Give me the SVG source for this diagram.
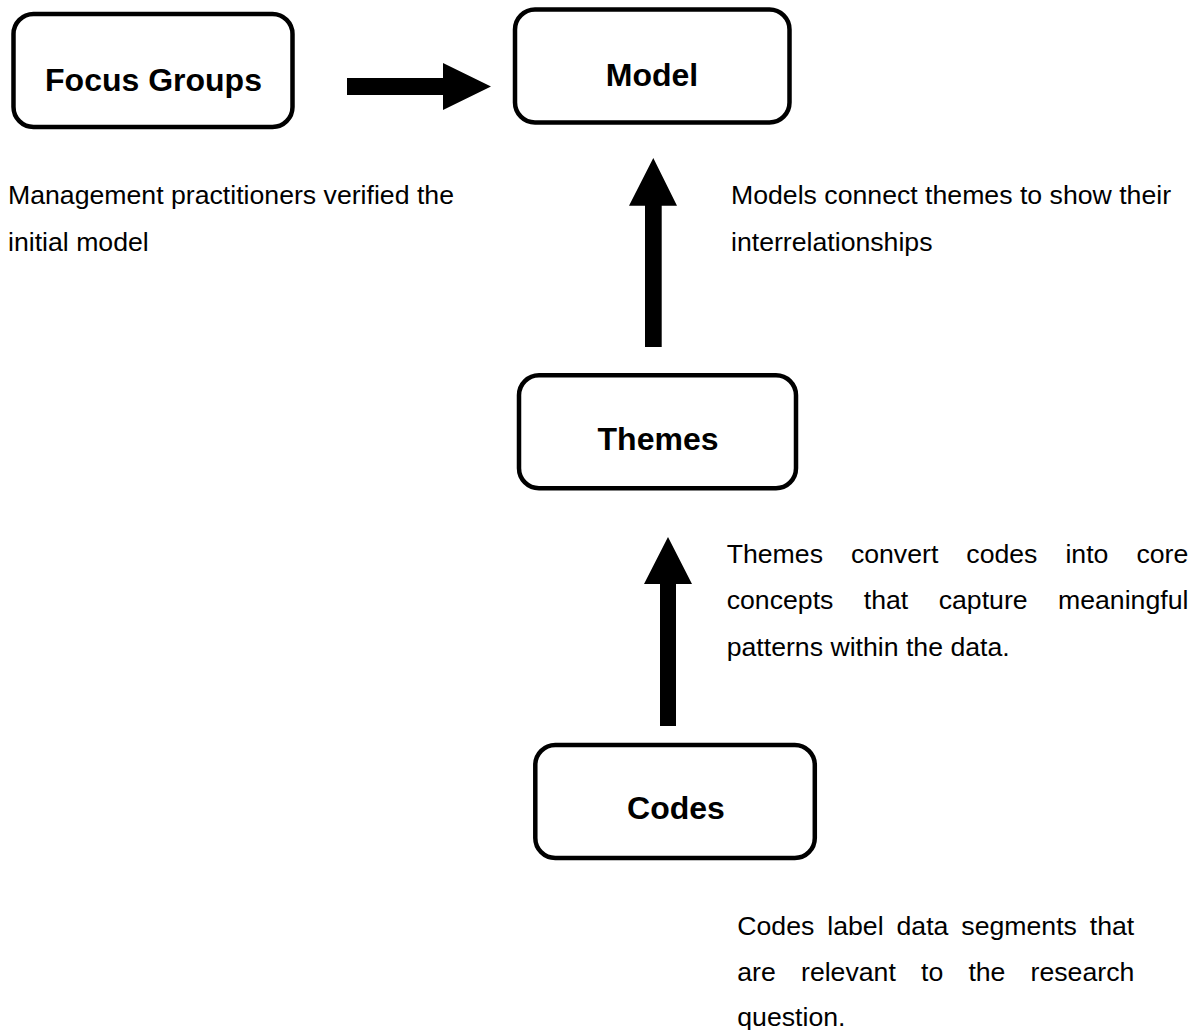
<svg xmlns="http://www.w3.org/2000/svg" width="1202" height="1030" viewBox="0 0 1202 1030">
<style>
.box{fill:#ffffff;stroke:#000000;stroke-width:4.5}
.lbl{font-family:"Liberation Sans",Arial,sans-serif;font-weight:bold;font-size:32px;fill:#000;text-anchor:middle}
.txt{font-family:"Liberation Sans",Arial,sans-serif;font-size:26.67px;fill:#000}
.arr{fill:#000;stroke:none}
</style>
<rect width="1202" height="1030" fill="#ffffff"/>
<g id="connectors">
<path class="arr" d="M347,78 H443 V63 L491,86.5 L443,110 V95 H347 Z"/>
<path class="arr" d="M645,347 V205.7 H629 L653.3,158 L677,205.7 H661.7 V347 Z"/>
<path class="arr" d="M660,726 V584 H644 L668,537 L692,584 H676 V726 Z"/>
</g>
<g id="focus-groups">
<rect class="box" x="13.5" y="14" width="279" height="113" rx="20"/>
<text class="lbl" x="153.5" y="90.5">Focus Groups</text>
</g>
<g id="model">
<rect class="box" x="515" y="9.5" width="274.5" height="113" rx="20"/>
<text class="lbl" x="652" y="86">Model</text>
</g>
<g id="themes">
<rect class="box" x="519" y="375.3" width="277" height="113" rx="20"/>
<text class="lbl" x="658" y="450">Themes</text>
</g>
<g id="codes">
<rect class="box" x="535.3" y="745" width="279.5" height="113" rx="20"/>
<text class="lbl" x="676" y="818.5">Codes</text>
</g>
<g id="note-focus">
<text class="txt" x="8" y="204">Management practitioners verified the</text>
<text class="txt" x="8" y="250.5">initial model</text>
</g>
<g id="note-model">
<text class="txt" x="731" y="204">Models connect themes to show their</text>
<text class="txt" x="731" y="250.5">interrelationships</text>
</g>
<g id="note-themes">
<text class="txt" y="562.5"><tspan x="726.7">Themes</tspan><tspan x="850.9">convert</tspan><tspan x="966.3">codes</tspan><tspan x="1065.4">into</tspan><tspan x="1136.4">core</tspan></text>
<text class="txt" y="609"><tspan x="726.7">concepts</tspan><tspan x="863.8">that</tspan><tspan x="938.7">capture</tspan><tspan x="1058">meaningful</tspan></text>
<text class="txt" x="726.7" y="655.5">patterns within the data.</text>
</g>
<g id="note-codes">
<text class="txt" y="934.5"><tspan x="737.3">Codes</tspan><tspan x="827.3">label</tspan><tspan x="896.5">data</tspan><tspan x="961.3">segments</tspan><tspan x="1089.8">that</tspan></text>
<text class="txt" y="980.5"><tspan x="737.3">are</tspan><tspan x="801">relevant</tspan><tspan x="921">to</tspan><tspan x="968.4">the</tspan><tspan x="1030.6">research</tspan></text>
<text class="txt" x="737.3" y="1026">question.</text>
</g>
</svg>
